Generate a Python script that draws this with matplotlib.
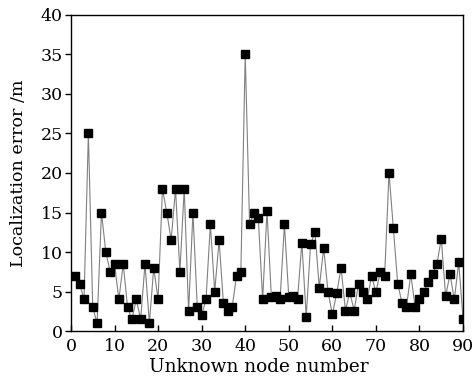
import numpy as np
import matplotlib
matplotlib.use("Agg")
import matplotlib.pyplot as plt

# node index and localization error
node = np.arange(1, 91)
error = [
    7.0, 6.0, 4.0, 25.0, 3.0, 1.0, 15.0, 10.0, 7.5, 8.5,
    4.0, 8.5, 3.0, 1.5, 4.0, 1.5, 8.5, 1.0, 8.0, 4.0,
    18.0, 15.0, 11.5, 18.0, 7.5, 18.0, 2.5, 15.0, 3.0, 2.0,
    4.0, 13.5, 5.0, 11.5, 3.5, 2.5, 3.0, 7.0, 7.5, 35.0,
    13.5, 15.0, 14.3, 4.0, 15.2, 4.3, 4.5, 4.0, 13.5, 4.3,
    4.5, 4.0, 11.2, 1.8, 11.0, 12.5, 5.5, 10.5, 5.0, 2.1,
    4.8, 8.0, 2.6, 4.9, 2.6, 6.0, 4.9, 4.0, 7.0, 4.9,
    7.5, 7.0, 20.0, 13.0, 6.0, 3.5, 3.0, 7.2, 3.0, 4.0,
    5.0, 6.2, 7.2, 8.5, 11.7, 4.4, 7.2, 4.0, 8.7, 1.5,
]
x_ticks = [0, 10, 20, 30, 40, 50, 60, 70, 80, 90]
y_ticks = [0, 5, 10, 15, 20, 25, 30, 35, 40]

plt.rcParams['font.family'] = ['DejaVu Serif']

fig = plt.figure(figsize=(4.73, 3.81), dpi=100)
ax = fig.add_axes([0.150, 0.131, 0.829, 0.830])

ax.plot(node, error, color='#808080', linewidth=0.8, zorder=1)
ax.plot(node, error, linestyle='none', marker='s', markersize=5.5,
        color='black', zorder=2)

ax.set_xlim(0, 90)
ax.set_ylim(0, 40)
ax.set_xticks(x_ticks)
ax.set_yticks(y_ticks)
# x ticks point inward, y ticks outward, as in the original
ax.tick_params(axis='x', direction='in', length=4, width=1, labelsize=12.5,
               top=False, pad=5)
ax.tick_params(axis='y', direction='out', length=4, width=1, labelsize=12.5,
               right=False, pad=2)
for s in ax.spines.values():
    s.set_linewidth(1.0)

ax.set_xlabel('Unknown node number', fontsize=13.3)
ax.set_ylabel('Localization error /m', fontsize=12.6)
ax.xaxis.set_label_coords(0.48, -0.085)
ax.yaxis.set_label_coords(-0.112, 0.5)

fig.savefig('out.png', dpi=100)
